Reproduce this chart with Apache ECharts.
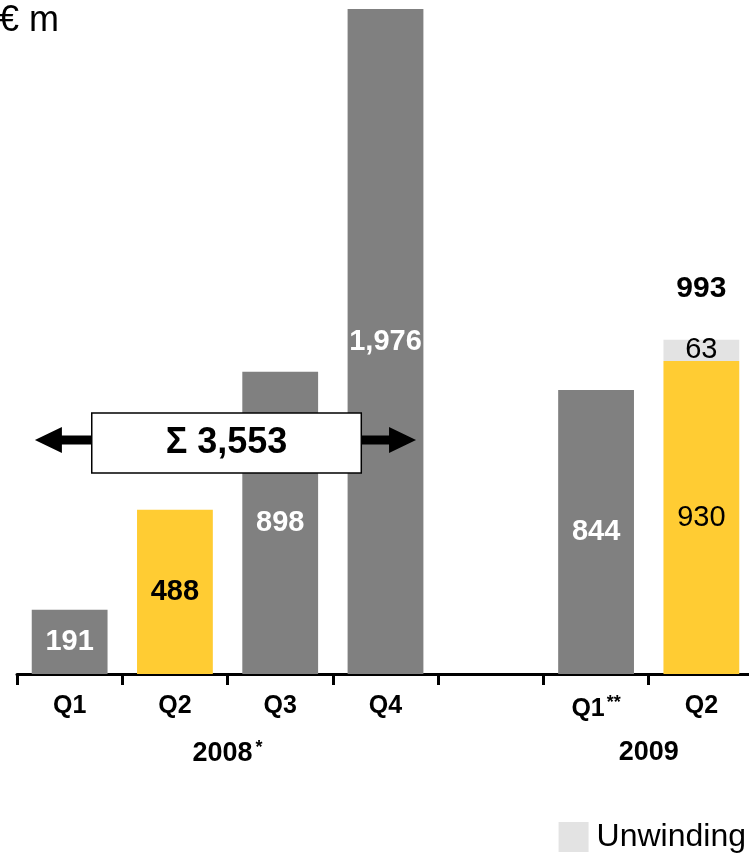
<!DOCTYPE html>
<html>
<head>
<meta charset="utf-8">
<script src="https://cdn.jsdelivr.net/npm/echarts@6/dist/echarts.min.js"></script>
<style>
  html, body { margin: 0; padding: 0; background: #fff; }
  #chart { width: 749px; height: 856px; }
</style>
</head>
<body>
<div id="chart"></div>
<script>
// Quarterly figures, € m
const categories = ['Q1', 'Q2', 'Q3', 'Q4', '', 'Q1**', 'Q2'];
const quarterValues = [191, 488, 898, 1976, null, 844, 930];
const unwindingValues = [null, null, null, null, null, null, 63];
// Which quarter indices belong to each year
const years = ['2008*', '2009'];
const yearFirstIndex = [0, 5];
const yearLastIndex = [3, 6];
// Quarters summed in the annual bracket (2008)
const sumFirstIndex = 0;
const sumLastIndex = 3;

const FONT = '"Liberation Sans", Arial, sans-serif';
const GREY = '#808080';
const YELLOW = '#FFCC33';
const LIGHT = '#E3E3E3';

const fmt = n => n.toLocaleString('en-US');

const mainData = quarterValues.map((v, i) => {
  if (v == null) return '-';
  const accent = categories[i] === 'Q2';
  const laterYear = i >= yearFirstIndex[1];
  return {
    value: v,
    itemStyle: { color: accent ? YELLOW : GREY },
    label: {
      color: accent ? '#000' : '#fff',
      fontWeight: accent && laterYear ? 'normal' : 'bold'
    }
  };
});

const totalData = unwindingValues.map(v => (v == null ? '-' : 0));
const totalOf = i => (quarterValues[i] || 0) + (unwindingValues[i] || 0);

const yearCenters = years.map((y, k) => (yearFirstIndex[k] + yearLastIndex[k] + 1) / 2);

const chart = echarts.init(document.getElementById('chart'), null, { renderer: 'canvas' });

const option = {
  animation: false,
  backgroundColor: '#fff',
  textStyle: { fontFamily: FONT },
  title: {
    text: '€ m',
    left: -1,
    top: 3,
    padding: 0,
    textStyle: { fontFamily: FONT, fontSize: 36, fontWeight: 'normal', color: '#000' }
  },
  legend: {
    data: [{ name: 'Unwinding', icon: 'rect' }],
    right: 3,
    bottom: 3,
    padding: 0,
    itemWidth: 30,
    itemHeight: 30,
    selectedMode: false,
    textStyle: { fontFamily: FONT, fontSize: 32, color: '#000', padding: [0, 0, 0, 3] }
  },
  grid: { left: 17, top: 9, right: -5, bottom: 182, containLabel: false, outerBoundsMode: 'none' },
  xAxis: [
    {
      type: 'category',
      data: categories,
      boundaryGap: true,
      axisLine: { show: true, lineStyle: { color: '#000', width: 3 } },
      axisTick: { show: true, length: 11, inside: false, lineStyle: { color: '#000', width: 3 } },
      axisLabel: {
        interval: 0,
        margin: 20,
        fontFamily: FONT,
        fontSize: 25,
        fontWeight: 'bold',
        color: '#000',
        formatter: v => v.replace('**', '{sup|**}'),
        rich: {
          sup: { fontSize: 18, fontWeight: 'bold', color: '#000', verticalAlign: 'top', padding: [0, 0, 12, 2] }
        }
      },
      splitLine: { show: false }
    },
    {
      type: 'value',
      min: 0,
      max: categories.length,
      interval: 1,
      position: 'bottom',
      axisLine: { show: false },
      axisTick: { show: false },
      splitLine: { show: false },
      axisLabel: {
        show: true,
        showMinLabel: true,
        showMaxLabel: true,
        margin: 65,
        fontFamily: FONT,
        fontSize: 27,
        fontWeight: 'bold',
        color: '#000',
        formatter: v => {
          const k = yearCenters.indexOf(v);
          return k < 0 ? '' : years[k].replace('*', '{sup|*}');
        },
        rich: {
          sup: { fontSize: 18, fontWeight: 'bold', color: '#000', verticalAlign: 'top', padding: [0, 0, 12, 3] }
        }
      }
    }
  ],
  yAxis: { type: 'value', min: 0, max: 1976, show: false },
  series: [
    {
      name: 'Quarter',
      type: 'bar',
      stack: 'total',
      xAxisIndex: 0,
      barCategoryGap: '28%',
      data: mainData,
      label: {
        show: true,
        position: 'inside',
        fontFamily: FONT,
        fontSize: 29,
        formatter: p => fmt(p.value)
      }
    },
    {
      name: 'Unwinding',
      type: 'bar',
      stack: 'total',
      xAxisIndex: 0,
      barCategoryGap: '28%',
      itemStyle: { color: LIGHT },
      data: unwindingValues.map(v => (v == null ? '-' : v)),
      label: {
        show: true,
        position: 'inside',
        fontFamily: FONT,
        fontSize: 29,
        color: '#000',
        formatter: p => fmt(p.value)
      }
    },
    {
      name: 'Total',
      type: 'bar',
      stack: 'total',
      xAxisIndex: 0,
      barCategoryGap: '28%',
      silent: true,
      itemStyle: { color: 'rgba(0,0,0,0)' },
      data: totalData,
      label: {
        show: true,
        position: 'top',
        distance: 36,
        fontFamily: FONT,
        fontSize: 30,
        fontWeight: 'bold',
        color: '#000',
        formatter: p => fmt(totalOf(p.dataIndex))
      }
    }
  ]
};

chart.setOption(option);

// Bracket for the annual sum of 2008, placed from the axes
function drawSumBracket() {
  const sum = quarterValues.slice(sumFirstIndex, sumLastIndex + 1).reduce((a, b) => a + b, 0);
  const xFirst = chart.convertToPixel({ xAxisIndex: 0 }, sumFirstIndex);
  const xLast = chart.convertToPixel({ xAxisIndex: 0 }, sumLastIndex);
  const step = chart.convertToPixel({ xAxisIndex: 0 }, 1) - chart.convertToPixel({ xAxisIndex: 0 }, 0);
  const y = chart.convertToPixel({ yAxisIndex: 0 }, 695);

  const leftTip = xFirst - step * 0.33;
  const rightTip = xLast + step * 0.29;
  const boxLeft = xFirst + step * 0.21;
  const boxRight = xLast - step * 0.23;
  const boxH = 60;
  const headL = 27, headH = 13, shaft = 4.5;

  chart.setOption({
    graphic: [
      {
        type: 'polygon', z: 100,
        shape: { points: [
          [leftTip, y], [leftTip + headL, y - headH], [leftTip + headL, y - shaft],
          [boxLeft, y - shaft], [boxLeft, y + shaft], [leftTip + headL, y + shaft],
          [leftTip + headL, y + headH]
        ] },
        style: { fill: '#000' }
      },
      {
        type: 'polygon', z: 100,
        shape: { points: [
          [rightTip, y], [rightTip - headL, y - headH], [rightTip - headL, y - shaft],
          [boxRight, y - shaft], [boxRight, y + shaft], [rightTip - headL, y + shaft],
          [rightTip - headL, y + headH]
        ] },
        style: { fill: '#000' }
      },
      {
        type: 'rect', z: 101,
        shape: { x: boxLeft, y: y + 3 - boxH / 2, width: boxRight - boxLeft, height: boxH },
        style: { fill: '#fff', stroke: '#000', lineWidth: 1.5 }
      },
      {
        type: 'text', z: 102,
        x: (boxLeft + boxRight) / 2,
        y: y + 3,
        style: {
          text: 'Σ ' + fmt(sum),
          fontFamily: FONT,
          fontSize: 36,
          fontWeight: 'bold',
          fill: '#000',
          align: 'center',
          verticalAlign: 'middle'
        }
      }
    ]
  });
}
drawSumBracket();
</script>
</body>
</html>
